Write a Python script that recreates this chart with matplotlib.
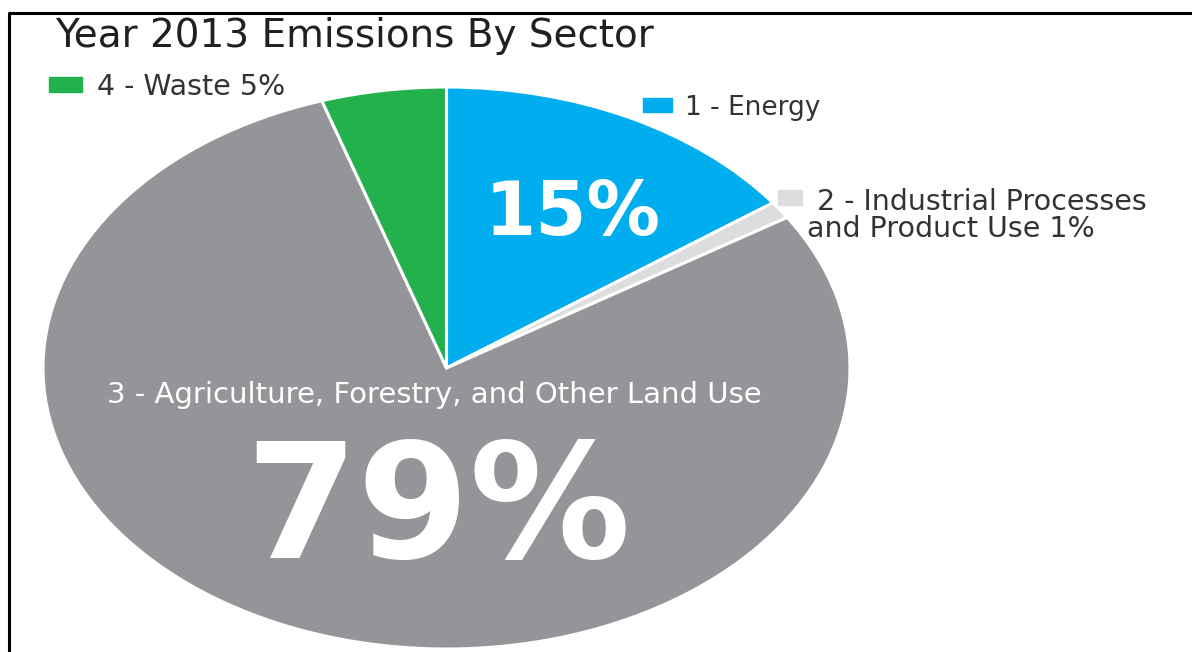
import matplotlib.pyplot as plt
from matplotlib.patches import Rectangle
from matplotlib.lines import Line2D

# Year 2013 emissions shares by sector (%)
sectors = ['1 - Energy', '2 - Industrial Processes and Product Use',
           '3 - Agriculture, Forestry, and Other Land Use', '4 - Waste']
shares = [15, 1, 79, 5]
colors = ['#00aeef', '#dcddde', '#939598', '#23b14d']

W, H = 1192, 652


def fx(x):
    return x / W


def fy(y):
    return 1 - y / H


fig = plt.figure(figsize=(W / 100, H / 100), dpi=100)
fig.patch.set_facecolor('white')

# stretched pie: unit circle mapped onto an ellipse
ax = fig.add_axes([fx(43), fy(649), fx(850) - fx(43), fy(87) - fy(649)])
ax.pie(shares, colors=colors, startangle=90, counterclock=False, radius=1,
       wedgeprops=dict(edgecolor='white', linewidth=2.2))
ax.set_aspect('auto')
ax.set_xlim(-1, 1)
ax.set_ylim(-1, 1)
ax.axis('off')

font = 'DejaVu Sans'

fig.text(fx(55), fy(47), 'Year 2013 Emissions By Sector', fontsize=28,
         color='#231f20', family=font, ha='left', va='baseline')

# legend keys
fig.patches.append(Rectangle((fx(49), fy(92)), fx(82) - fx(49), fy(77) - fy(92),
                             transform=fig.transFigure, color=colors[3]))
fig.text(fx(97), fy(95), f'{sectors[3]} {shares[3]}%', fontsize=20.5,
         color='#333333', family=font, va='baseline')

fig.patches.append(Rectangle((fx(643), fy(112)), fx(672) - fx(643), fy(98) - fy(112),
                             transform=fig.transFigure, color=colors[0]))
fig.text(fx(685), fy(115), sectors[0], fontsize=19,
         color='#333333', family=font, va='baseline')

fig.patches.append(Rectangle((fx(778), fy(205)), fx(802) - fx(778), fy(190) - fy(205),
                             transform=fig.transFigure, color=colors[1]))
fig.text(fx(817), fy(210), '2 - Industrial Processes', fontsize=20.5,
         color='#333333', family=font, va='baseline')
fig.text(fx(807), fy(237), f'and Product Use {shares[1]}%', fontsize=20.5,
         color='#333333', family=font, va='baseline')

# labels inside the wedges
fig.text(fx(485), fy(235), f'{shares[0]}%', fontsize=53, fontweight='bold',
         color='white', family=font, va='baseline')
fig.text(fx(434), fy(403), sectors[2], fontsize=21,
         color='white', family=font, ha='center', va='baseline')
fig.text(fx(245), fy(558), f'{shares[2]}%', fontsize=116, fontweight='bold',
         color='white', family=font, va='baseline')

# frame along the top and left
fig.lines.append(Line2D([fx(9), fx(9), 1.01], [-0.01, fy(13), fy(13)],
                        transform=fig.transFigure, color='black', linewidth=2.2))

fig.savefig('out.png', dpi=100)
